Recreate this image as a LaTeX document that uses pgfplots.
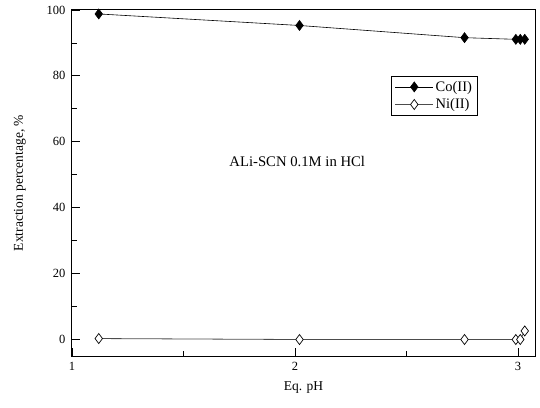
\documentclass[border=0pt]{standalone}
\usepackage{pgfplots}
\pgfplotsset{compat=1.18}
\usepackage{fontspec}
\setmainfont{Liberation Serif}
\pgfplotsset{longlegend/.style={legend image code/.code={%
    \draw[mark=none] (0pt,0pt) -- (38pt,0pt);
    \draw plot coordinates {(19pt,0pt)};}}}
\begin{document}
\begin{tikzpicture}
\begin{axis}[
  name=main,
  scale only axis,
  width=463pt, height=346pt,
  xmin=1, xmax=3.076,
  ymin=-5, ymax=100,
  xtick={1,2,3},
  ytick={0,20,40,60,80,100},
  minor xtick={1.5,2.5},
  minor ytick={10,30,50,70,90},
  tick pos=left,
  tick align=inside,
  major tick length=8pt,
  minor tick length=5pt,
  axis line style={line width=1pt},
  every tick/.style={black, line width=0.9pt},
  /pgf/number format/assume math mode=true,
  tick label style={font=\fontsize{12.5}{14}\selectfont},
  xticklabel style={yshift=-3pt},
  yticklabel style={xshift=-3pt},
  label style={font=\fontsize{13.5}{15}\selectfont},
  xlabel={Eq. pH},
  ylabel={Extraction percentage, \%},
  xlabel style={yshift=-4pt},
  ylabel style={yshift=14pt},
  legend style={at={(0.690,0.81)}, anchor=north west, draw=black, line width=0.8pt,
    font=\fontsize{14.5}{17}\selectfont, inner sep=3pt, row sep=2pt,
    /tikz/every even column/.append style={column sep=2pt}},
  legend cell align=left,
]
\addplot[black, line width=0.6pt, mark=diamond*, mark size=5pt,
  mark options={fill=black, solid}, longlegend] coordinates {
  (1.12,98.8) (2.02,95.3) (2.76,91.6) (2.99,91.1) (3.01,91.1) (3.03,91.1)
};
\addlegendentry{Co(II)}
\addplot[black!70, line width=0.8pt, mark=diamond*, mark size=5pt,
  mark options={fill=white, draw=black, line width=0.7pt, solid}, longlegend] coordinates {
  (1.12,0.3) (2.02,0.0) (2.76,0.0) (2.99,0.0) (3.01,0.0) (3.03,2.6)
};
\addlegendentry{Ni(II)}
\node[font=\fontsize{14.7}{16}\selectfont] at (axis cs:2.01,54) {ALi-SCN 0.1M in HCl};
\end{axis}
\pgfresetboundingbox
\path[use as bounding box] (main.south west) ++(-72pt,-51pt) rectangle ++(540pt,407pt);
\end{tikzpicture}
\end{document}
